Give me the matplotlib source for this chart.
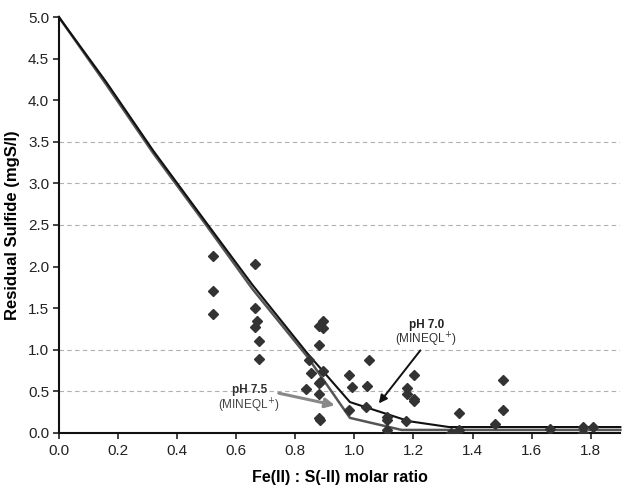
from matplotlib import pyplot as plt

#data
x_model = [0.0, 0.16, 0.32, 0.49, 0.655, 0.84, 0.985, 1.185, 1.32, 1.9]
y_ph70 = [5.0, 4.22, 3.39, 2.57, 1.78, 0.96, 0.37, 0.14, 0.07, 0.07]

x_model75 = [0.0, 0.16, 0.32, 0.49, 0.655, 0.84, 0.985, 1.16, 1.9]
y_ph75 = [5.0, 4.19, 3.36, 2.54, 1.73, 0.92, 0.18, 0.035, 0.035]

x_obs = [0.522, 0.522, 0.522, 0.664, 0.663, 0.672, 0.664, 0.676, 0.678,
         0.881, 0.893, 0.893, 0.881, 0.847, 0.853, 0.836, 0.885, 0.881, 0.881,
         0.893, 0.881, 0.885,
         0.983, 0.991, 0.983, 1.049, 1.043, 1.039, 1.11, 1.11, 1.11,
         1.203, 1.177, 1.177, 1.203, 1.203, 1.175,
         1.354, 1.503, 1.503, 1.475, 1.328, 1.354, 1.661, 1.772, 1.772, 1.806]
y_obs = [2.13, 1.71, 1.43, 2.03, 1.50, 1.35, 1.27, 1.10, 0.886,
         1.286, 1.346, 1.258, 1.06, 0.877, 0.725, 0.525, 0.617, 0.60, 0.469,
         0.745, 0.176, 0.15,
         0.697, 0.55, 0.276, 0.877, 0.565, 0.31, 0.19, 0.15, 0.03,
         0.697, 0.537, 0.465, 0.408, 0.38, 0.145,
         0.236, 0.637, 0.276, 0.108, 0.004, 0.036, 0.044, 0.076, 0.004, 0.076]

grid_levels = [0.5, 1.0, 2.5, 3.0, 3.5]
x_ticks = [0.0, 0.2, 0.4, 0.6, 0.8, 1.0, 1.2, 1.4, 1.6, 1.8]
y_ticks = [0.0, 0.5, 1.0, 1.5, 2.0, 2.5, 3.0, 3.5, 4.0, 4.5, 5.0]

plt.rcParams['font.family'] = ['Liberation Sans', 'DejaVu Sans']

fig = plt.figure(figsize=(6.33, 4.88), dpi=100)
ax = fig.add_axes([0.093, 0.113, 0.887, 0.852])

#dashed grid only at some levels
for g in grid_levels:
    ax.axhline(g, color='#b0b0b0', lw=0.8, ls=(0, (4, 3)), zorder=0)

ax.plot(x_obs, y_obs, 'D', color='#333333', ms=4.8, mec='#333333', zorder=3)
ax.plot(x_model75, y_ph75, '-', color='#555555', lw=1.8, zorder=2, clip_on=False)
ax.plot(x_model, y_ph70, '-', color='#111111', lw=1.5, zorder=2, clip_on=False)

ax.set_xlim(0, 1.9)
ax.set_ylim(0, 5.0)
ax.set_xticks(x_ticks)
ax.set_yticks(y_ticks)
ax.set_xticklabels([f"{t:.1f}" for t in x_ticks])
ax.set_yticklabels([f"{t:.1f}" for t in y_ticks])
ax.tick_params(labelsize=11, colors='#222222', length=4, width=1.2)
ax.tick_params(axis='x', pad=4)
ax.tick_params(axis='y', pad=3)

for s in ['top', 'right']:
    ax.spines[s].set_visible(False)
for s in ['left', 'bottom']:
    ax.spines[s].set_linewidth(1.5)
    ax.spines[s].set_color('#111111')

ax.set_xlabel('Fe(II) : S(-II) molar ratio', fontsize=11.5, fontweight='bold', labelpad=9)
ax.set_ylabel('Residual Sulfide (mgS/l)', fontsize=12, fontweight='bold', labelpad=6)

#annotations
ax.text(0.644, 0.52, 'pH 7.5', ha='center', va='center', fontsize=8.5, fontweight='bold', color='#333333')
ax.text(0.644, 0.33, '(MINEQL$^{+}$)', ha='center', va='center', fontsize=8.5, color='#444444')
ax.annotate('', xy=(0.943, 0.325), xytext=(0.735, 0.484),
            arrowprops=dict(arrowstyle='-|>', color='#888888', lw=2.2, mutation_scale=14))

ax.text(1.243, 1.30, 'pH 7.0', ha='center', va='center', fontsize=8.5, fontweight='bold', color='#222222')
ax.text(1.243, 1.12, '(MINEQL$^{+}$)', ha='center', va='center', fontsize=8.5, color='#333333')
ax.annotate('', xy=(1.077, 0.328), xytext=(1.229, 1.018),
            arrowprops=dict(arrowstyle='-|>', color='#111111', lw=1.4, mutation_scale=12))

fig.savefig('out.png', dpi=100)
